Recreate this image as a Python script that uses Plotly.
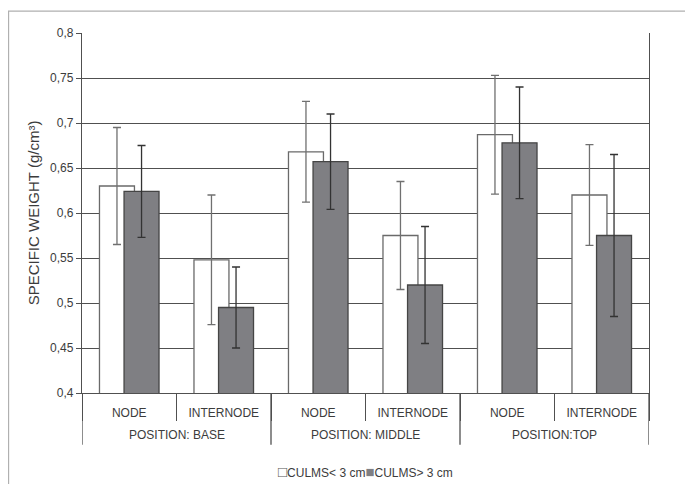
import plotly.graph_objects as go

positions = ["POSITION: BASE", "POSITION: BASE", "POSITION: MIDDLE", "POSITION: MIDDLE", "POSITION:TOP", "POSITION:TOP"]
parts = ["NODE", "INTERNODE", "NODE", "INTERNODE", "NODE", "INTERNODE"]

series_names = ["CULMS< 3 cm", "CULMS> 3 cm"]
small_mean = [0.630, 0.548, 0.668, 0.575, 0.687, 0.620]
small_err = [0.065, 0.072, 0.056, 0.060, 0.066, 0.056]
large_mean = [0.624, 0.495, 0.657, 0.520, 0.678, 0.575]
large_err = [0.051, 0.045, 0.053, 0.065, 0.062, 0.090]

y_ticks = [0.4, 0.45, 0.5, 0.55, 0.6, 0.65, 0.7, 0.75, 0.8]

font_family = "Liberation Sans, Arial, sans-serif"
axis_col = "#505050"
text_col = "#3c3c3c"
dark_fill = "#7f7f83"

idx = list(range(len(parts)))
boundaries = [i - 0.5 for i in idx] + [len(idx) - 0.5]

# group boundaries and centers derived from the position list
group_bounds = [-0.5]
groups = []
start = 0
for i in range(1, len(positions) + 1):
    if i == len(positions) or positions[i] != positions[i - 1]:
        groups.append((positions[start], (start + i - 1) / 2))
        group_bounds.append(i - 0.5)
        start = i

fig = go.Figure()
fig.add_trace(go.Bar(
    x=idx, y=small_mean, name=series_names[0], showlegend=False,
    width=0.37, offset=-0.315,
    marker=dict(color="white", line=dict(color="#6a6a6a", width=1.3)),
    error_y=dict(type="data", array=small_err, color="#707070", thickness=1.3, width=4),
))
fig.add_trace(go.Bar(
    x=idx, y=large_mean, name=series_names[1], showlegend=False,
    width=0.37, offset=-0.055,
    marker=dict(color=dark_fill, line=dict(color="#454545", width=1.3)),
    error_y=dict(type="data", array=large_err, color="#333333", thickness=1.3, width=4),
))

shapes = [dict(type="rect", xref="paper", yref="paper",
               x0=-0.1296, x1=1.2, y0=-0.5, y1=1.061,
               line=dict(color="#b0b0b0", width=1.3), layer="below")]
for b in group_bounds:
    shapes.append(dict(type="line", xref="x", yref="paper", x0=b, x1=b, y0=0, y1=-0.144,
                       line=dict(color=axis_col, width=1.3)))

annotations = [dict(x=c, y=-0.117, xref="x", yref="paper", text=name, showarrow=False,
                    font=dict(size=12, color=text_col), xanchor="center", yanchor="middle")
               for name, c in groups]

def esc(s):
    return s.replace("<", "&lt;").replace(">", "&gt;")

legend_text = ('<span style="color:#555555;font-size:15px">□</span>' + esc(series_names[0]) +
               '<span style="color:%s;font-size:15px">■</span>' % dark_fill + esc(series_names[1]))
annotations.append(dict(x=0.5, y=-0.219, xref="paper", yref="paper", text=legend_text,
                        showarrow=False, xanchor="center", yanchor="middle",
                        font=dict(size=12, color=text_col)))

fig.update_layout(
    width=685, height=476,
    margin=dict(l=74, r=44, t=25, b=91, autoexpand=False),
    barmode="overlay",
    separators=", ",
    paper_bgcolor="white", plot_bgcolor="white",
    font=dict(family=font_family, size=12, color=text_col),
    showlegend=False,
    shapes=shapes,
    annotations=annotations,
)
fig.update_yaxes(
    range=[0.4, 0.8], tickvals=y_ticks, automargin=False,
    showgrid=True, gridcolor=axis_col, gridwidth=1.4,
    showline=True, linecolor=axis_col, linewidth=1.4, mirror=True,
    ticks="outside", ticklen=5, tickcolor=axis_col, tickwidth=1.3,
    title=dict(text="SPECIFIC WEIGHT (g/cm³)", font=dict(size=15, color=text_col), standoff=6),
    tickfont=dict(size=12, color=text_col),
    zeroline=False,
)
fig.update_xaxes(
    range=[-0.5, len(idx) - 0.5], automargin=False,
    tickmode="array", tickvals=idx, ticktext=parts,
    showline=True, linecolor=axis_col, linewidth=1.4,
    ticks="", ticklabelstandoff=8,
    minor=dict(tickmode="array", tickvals=boundaries, ticks="outside", ticklen=27,
               tickcolor=axis_col, tickwidth=1.3, showgrid=False),
    tickfont=dict(size=12, color=text_col),
    showgrid=False, zeroline=False,
)

fig.write_html("out.html")
